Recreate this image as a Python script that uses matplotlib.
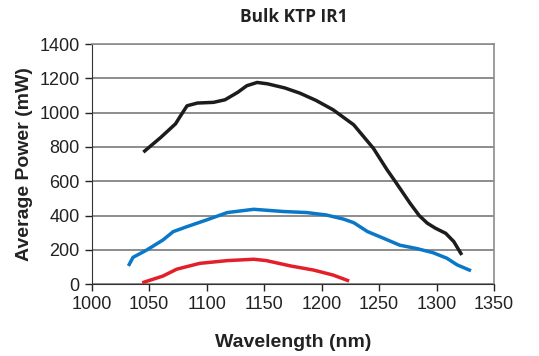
import numpy as np
import matplotlib
matplotlib.use("Agg")
import matplotlib.pyplot as plt

# ── DATA ──────────────────────────────────────────────────────
black_wl = [1045, 1060, 1073, 1077, 1083, 1092, 1106, 1116, 1127, 1135,
            1144, 1153, 1168, 1181, 1195, 1210, 1228, 1245, 1257, 1264,
            1277, 1285, 1292, 1299, 1308, 1315, 1322]
black_pw = [770, 855, 935, 978, 1040, 1056, 1060, 1075, 1118, 1157,
            1176, 1168, 1144, 1114, 1072, 1017, 929, 793, 667, 600,
            472, 400, 356, 327, 297, 249, 171]

blue_wl = [1032, 1036, 1048, 1062, 1071, 1083, 1100, 1118, 1141, 1167,
           1187, 1204, 1219, 1228, 1240, 1254, 1268, 1283, 1297, 1309,
           1318, 1330]
blue_pw = [107, 157, 200, 258, 307, 336, 375, 418, 437, 424,
           418, 404, 380, 359, 307, 268, 228, 208, 184, 152,
           113, 79]

red_wl = [1044, 1062, 1074, 1094, 1118, 1141, 1152, 1173, 1193, 1210, 1224]
red_pw = [9, 48, 88, 122, 138, 146, 138, 107, 83, 54, 19]

X_TICKS = [1000, 1050, 1100, 1150, 1200, 1250, 1300, 1350]
Y_TICKS = [0, 200, 400, 600, 800, 1000, 1200, 1400]

BLACK = "#1c1c1c"
BLUE  = "#0a78c8"
RED   = "#e3202a"
GRID  = "#8c8c8c"

plt.rcParams["font.family"] = ["Liberation Sans", "DejaVu Sans"]

fig = plt.figure(figsize=(5.39, 3.56), dpi=100)
ax = fig.add_axes([0.170, 0.2014, 0.7465, 0.675])

for wl, pw, col in [(black_wl, black_pw, BLACK),
                    (blue_wl, blue_pw, BLUE),
                    (red_wl, red_pw, RED)]:
    ax.plot(wl, pw, color=col, lw=2.5, solid_capstyle="butt",
            solid_joinstyle="round", zorder=3)

ax.set_xlim(1000, 1350)
ax.set_ylim(0, 1400)
ax.set_xticks(X_TICKS)
ax.set_yticks(Y_TICKS)
ax.tick_params(axis="both", labelsize=13, colors="#222222", direction="out",
               length=5, width=1)
ax.grid(True, axis="y", color=GRID, lw=1.4)
ax.set_axisbelow(True)

for s in ["top", "right"]:
    ax.spines[s].set_color(GRID)
    ax.spines[s].set_linewidth(1.2)
ax.spines["left"].set_color("#333333")
ax.spines["bottom"].set_color("#333333")

ax.set_xlabel("Wavelength (nm)", fontsize=14, fontweight="bold", color="#222222", labelpad=15)
ax.set_ylabel("Average Power (mW)", fontsize=14, fontweight="bold", color="#222222", labelpad=5)
fig.text(0.545, 0.952, "Bulk KTP IR1", ha="center", va="center", fontsize=12.5,
         fontweight="bold", color="#222222", family=["Open Sans", "DejaVu Sans"])

plt.savefig("out.png", dpi=100, facecolor="white")
plt.close()
